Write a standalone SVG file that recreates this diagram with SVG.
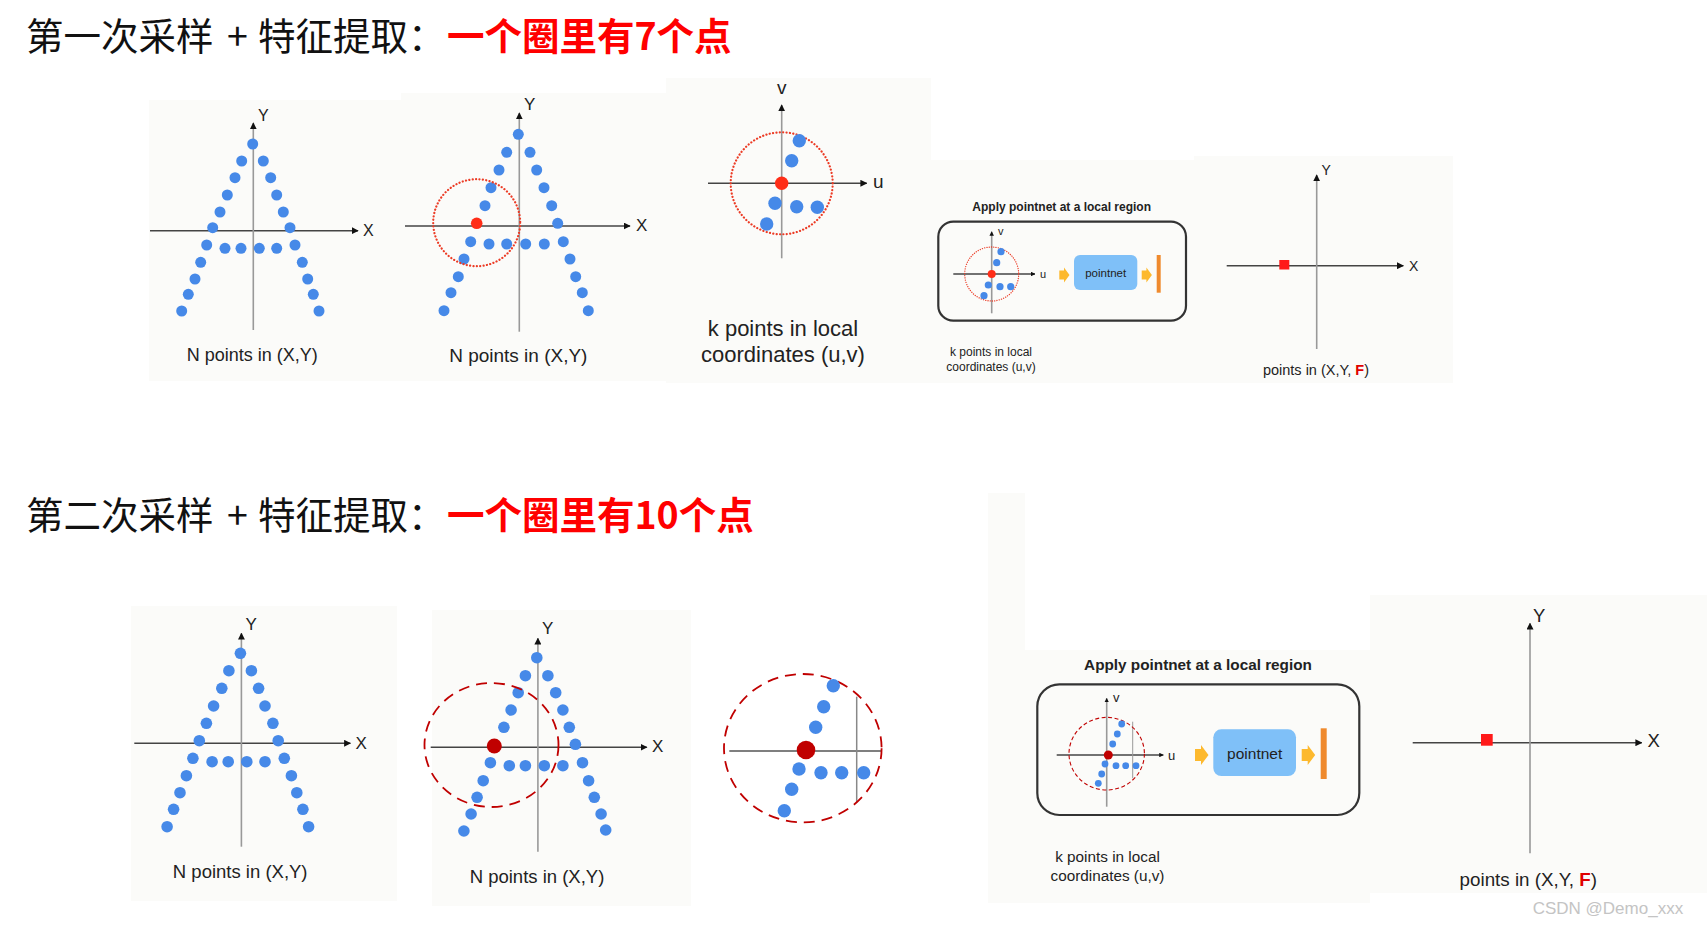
<svg xmlns="http://www.w3.org/2000/svg" width="1707" height="927" viewBox="0 0 1707 927">
<style>
.bg{fill:#fbfbf9}
.ttl{font-family:"Noto Sans CJK SC","Liberation Sans",sans-serif;font-size:37.5px;fill:#111}
.red{fill:#ff0000;font-weight:bold}
.lbl{font-family:"Liberation Sans",Arial,sans-serif;fill:#222}
.b{font-weight:bold}
.ax{stroke:#999;stroke-width:1.6;fill:none}
.axh{stroke:#444;stroke-width:1.4;fill:none}
.dot{fill:#4689e8}
.ctr{fill:#ff2d17}
.dctr{fill:#c00000}
.dotted{fill:none;stroke:#ec3b25;stroke-width:2.2;stroke-linecap:round;stroke-dasharray:0.1 3.3}
.dashed{fill:none;stroke:#c00000;stroke-width:1.8;stroke-dasharray:11 7}
.yl{fill:#fdb92e}
.bar{fill:#ef8a2e}
.pn{fill:#7fc0f8}
.box{fill:none;stroke:#333;stroke-width:2.2}
.wm{font-family:"Liberation Sans",Arial,sans-serif;fill:#c4c4c4;font-size:17px}
</style>
<defs>
<marker id="ah" viewBox="0 0 10 10" refX="9" refY="5" markerWidth="7" markerHeight="7" markerUnits="userSpaceOnUse" orient="auto"><path d="M0,0 L10,5 L0,10 z" fill="#111"/></marker>
<marker id="ahs" viewBox="0 0 10 10" refX="9" refY="5" markerWidth="4.5" markerHeight="4.5" markerUnits="userSpaceOnUse" orient="auto"><path d="M0,0 L10,5 L0,10 z" fill="#111"/></marker>
</defs>
<rect width="1707" height="927" fill="#ffffff"/>

<g id="backgrounds">
<rect class="bg" x="149" y="100" width="252" height="281"/>
<rect class="bg" x="401" y="93" width="265" height="288"/>
<rect class="bg" x="666" y="78" width="265" height="305"/>
<rect class="bg" x="931" y="160" width="263" height="223"/>
<rect class="bg" x="1194" y="156" width="259" height="227"/>
<rect class="bg" x="131" y="606" width="266" height="295"/>
<rect class="bg" x="432" y="610" width="259" height="296"/>
<rect class="bg" x="988" y="493" width="37" height="157"/>
<rect class="bg" x="988" y="650" width="382" height="253"/>
<rect class="bg" x="1370" y="595" width="337" height="298"/>
</g>

<g id="title1">
<text class="ttl" x="26" y="50">第一次采样<tspan x="227">+</tspan><tspan x="258">特征提取：</tspan></text>
<text class="ttl red" x="447" y="50">一个圈里有7个点</text>
</g>

<g id="r1p1">
<line class="axh" x1="150" y1="230.7" x2="358" y2="230.7" marker-end="url(#ah)"/>
<line class="ax" x1="253.3" y1="330" x2="253.3" y2="123" marker-end="url(#ah)"/>
<text class="lbl" x="258" y="121" font-size="16">Y</text>
<text class="lbl" x="363" y="236" font-size="16">X</text>
<g class="dot">
<circle cx="252.7" cy="144" r="5.5"/><circle cx="241.7" cy="161" r="5.5"/><circle cx="263.3" cy="161" r="5.5"/>
<circle cx="235" cy="177.7" r="5.5"/><circle cx="270.7" cy="177.7" r="5.5"/><circle cx="227.3" cy="195" r="5.5"/>
<circle cx="276.7" cy="195" r="5.5"/><circle cx="220" cy="212" r="5.5"/><circle cx="283.3" cy="212" r="5.5"/>
<circle cx="212.7" cy="227.7" r="5.5"/><circle cx="290" cy="227.7" r="5.5"/><circle cx="206.7" cy="245" r="5.5"/>
<circle cx="225" cy="248.3" r="5.5"/><circle cx="241" cy="248.3" r="5.5"/><circle cx="259.3" cy="248.3" r="5.5"/>
<circle cx="276.7" cy="248.3" r="5.5"/><circle cx="295" cy="245" r="5.5"/><circle cx="200.7" cy="262.3" r="5.5"/>
<circle cx="302.3" cy="262.3" r="5.5"/><circle cx="195" cy="279" r="5.5"/><circle cx="307.7" cy="279" r="5.5"/>
<circle cx="188.3" cy="294.3" r="5.5"/><circle cx="313.3" cy="294.3" r="5.5"/><circle cx="181.7" cy="311" r="5.5"/>
<circle cx="319" cy="311" r="5.5"/>
</g>
<text class="lbl" x="252.2" y="361" font-size="18" text-anchor="middle">N points in (X,Y)</text>
</g>

<g id="r1p2">
<line class="axh" x1="405" y1="226" x2="630" y2="226" marker-end="url(#ah)"/>
<line class="ax" x1="519.3" y1="331.7" x2="519.3" y2="113" marker-end="url(#ah)"/>
<text class="lbl" x="524" y="110" font-size="17">Y</text>
<text class="lbl" x="636" y="231" font-size="17">X</text>
<g class="dot">
<circle cx="518.3" cy="134.3" r="5.5"/><circle cx="506.7" cy="152.3" r="5.5"/><circle cx="530" cy="152.3" r="5.5"/>
<circle cx="499" cy="170" r="5.5"/><circle cx="536.7" cy="170" r="5.5"/><circle cx="491" cy="187.7" r="5.5"/>
<circle cx="544" cy="187.7" r="5.5"/><circle cx="485" cy="205.7" r="5.5"/><circle cx="551.7" cy="205.7" r="5.5"/>
<circle cx="557.7" cy="223.3" r="5.5"/>
<circle cx="470.7" cy="241.7" r="5.5"/><circle cx="489" cy="244" r="5.5"/><circle cx="506.7" cy="244" r="5.5"/>
<circle cx="525.7" cy="244" r="5.5"/><circle cx="544.3" cy="244" r="5.5"/><circle cx="563.3" cy="241.7" r="5.5"/>
<circle cx="464" cy="259" r="5.5"/><circle cx="570" cy="259" r="5.5"/><circle cx="458.3" cy="276.7" r="5.5"/>
<circle cx="575.7" cy="276.7" r="5.5"/><circle cx="451" cy="292.7" r="5.5"/><circle cx="582.3" cy="292.7" r="5.5"/>
<circle cx="444" cy="310.7" r="5.5"/><circle cx="588.3" cy="310.7" r="5.5"/>
</g>
<circle class="ctr" cx="476.7" cy="223.3" r="5.8"/>
<circle class="dotted" cx="476.7" cy="222.7" r="43.5"/>
<text class="lbl" x="518.3" y="361.7" font-size="19" text-anchor="middle">N points in (X,Y)</text>
</g>

<g id="r1p3">
<line class="axh" x1="708" y1="183.3" x2="866.7" y2="183.3" marker-end="url(#ah)"/>
<line class="ax" x1="781.7" y1="258.3" x2="781.7" y2="105" marker-end="url(#ah)"/>
<text class="lbl" x="781.7" y="94" font-size="19" text-anchor="middle">v</text>
<text class="lbl" x="873" y="188" font-size="19">u</text>
<circle class="dotted" cx="781.7" cy="183.3" r="51"/>
<g class="dot">
<circle cx="799.3" cy="140.7" r="6.7"/><circle cx="791.7" cy="160.7" r="6.7"/><circle cx="775" cy="203.3" r="6.7"/>
<circle cx="796.7" cy="206.7" r="6.7"/><circle cx="817.3" cy="207.3" r="6.7"/><circle cx="766.7" cy="224" r="6.7"/>
</g>
<circle class="ctr" cx="781.7" cy="183.3" r="6.7"/>
<text class="lbl" x="783" y="336" font-size="22" text-anchor="middle">k points in local</text>
<text class="lbl" x="783" y="361.5" font-size="22" text-anchor="middle">coordinates (u,v)</text>
</g>

<g id="r1p4">
<text class="lbl b" x="1061.7" y="211" font-size="12" text-anchor="middle">Apply pointnet at a local region</text>
<rect class="box" x="938.3" y="221.7" width="247.7" height="99" rx="15"/>
<line class="axh" x1="953.3" y1="274" x2="1035" y2="274" stroke-width="1" marker-end="url(#ahs)"/>
<line class="ax" x1="991.7" y1="313.3" x2="991.7" y2="231.7" stroke-width="1" marker-end="url(#ahs)"/>
<text class="lbl" x="998" y="235" font-size="11">v</text>
<text class="lbl" x="1040" y="278" font-size="11">u</text>
<circle cx="991.7" cy="274" r="27" fill="none" stroke="#ec3b25" stroke-width="1.3" stroke-linecap="round" stroke-dasharray="0.1 2.2"/>
<g class="dot">
<circle cx="1001" cy="251.7" r="3.6"/><circle cx="996.7" cy="262.7" r="3.6"/><circle cx="988.3" cy="285" r="3.6"/>
<circle cx="1000" cy="286.7" r="3.6"/><circle cx="1010.7" cy="286.7" r="3.6"/><circle cx="984" cy="295.7" r="3.6"/>
</g>
<circle class="ctr" cx="991.7" cy="274" r="4"/>
<polygon class="yl" points="1059.3,270.5 1064,270.5 1064,267.5 1069.5,275 1064,282.5 1064,279.5 1059.3,279.5"/>
<rect class="pn" x="1074" y="255" width="63.3" height="35" rx="6"/>
<text class="lbl" x="1105.7" y="277" font-size="11.5" text-anchor="middle" fill="#333">pointnet</text>
<polygon class="yl" points="1141.7,270.5 1146.4,270.5 1146.4,267.5 1151.9,275 1146.4,282.5 1146.4,279.5 1141.7,279.5"/>
<rect class="bar" x="1156.7" y="255" width="4" height="37.7"/>
<text class="lbl" x="991" y="356" font-size="12" text-anchor="middle" fill="#444">k points in local</text>
<text class="lbl" x="991" y="370.5" font-size="12" text-anchor="middle" fill="#444">coordinates (u,v)</text>
</g>

<g id="r1p5">
<line class="axh" x1="1226.7" y1="265.7" x2="1403.3" y2="265.7" marker-end="url(#ah)"/>
<line class="ax" x1="1316.7" y1="349" x2="1316.7" y2="175" marker-end="url(#ah)"/>
<text class="lbl" x="1321.5" y="175" font-size="14">Y</text>
<text class="lbl" x="1409" y="270.5" font-size="14">X</text>
<rect x="1279.3" y="260" width="10" height="9.5" fill="#ff1a1a"/>
<text class="lbl" x="1316" y="375" font-size="14.5" text-anchor="middle">points in (X,Y, <tspan class="b" fill="#e00000">F</tspan>)</text>
</g>

<g id="title2">
<text class="ttl" x="26" y="529">第二次采样<tspan x="227">+</tspan><tspan x="258">特征提取：</tspan></text>
<text class="ttl red" x="447" y="529">一个圈里有10个点</text>
</g>

<g id="r2p1">
<line class="axh" x1="134.3" y1="743.3" x2="350.4" y2="743.3" marker-end="url(#ah)"/>
<line class="ax" x1="241.4" y1="846.7" x2="241.4" y2="633.3" marker-end="url(#ah)"/>
<text class="lbl" x="245.5" y="630" font-size="17">Y</text>
<text class="lbl" x="355.5" y="748.5" font-size="17">X</text>
<g class="dot">
<circle cx="240.4" cy="653.3" r="5.8"/><circle cx="228.9" cy="670.7" r="5.8"/><circle cx="251.4" cy="670.7" r="5.8"/>
<circle cx="221.8" cy="688.3" r="5.8"/><circle cx="258.6" cy="688.3" r="5.8"/><circle cx="213.6" cy="706" r="5.8"/>
<circle cx="265" cy="706" r="5.8"/><circle cx="206.4" cy="723.3" r="5.8"/><circle cx="272.9" cy="723.3" r="5.8"/>
<circle cx="199.3" cy="740.7" r="5.8"/><circle cx="278.2" cy="740.7" r="5.8"/><circle cx="192.9" cy="758.3" r="5.8"/>
<circle cx="212.1" cy="761.7" r="5.8"/><circle cx="228.2" cy="761.7" r="5.8"/><circle cx="246.8" cy="761.7" r="5.8"/>
<circle cx="265" cy="761.7" r="5.8"/><circle cx="284.3" cy="758.3" r="5.8"/><circle cx="186.4" cy="775.7" r="5.8"/>
<circle cx="291.4" cy="775.7" r="5.8"/><circle cx="180" cy="792.7" r="5.8"/><circle cx="296.8" cy="792.7" r="5.8"/>
<circle cx="173.6" cy="809.3" r="5.8"/><circle cx="302.9" cy="809.3" r="5.8"/><circle cx="167.1" cy="826.7" r="5.8"/>
<circle cx="308.6" cy="826.7" r="5.8"/>
</g>
<text class="lbl" x="240.2" y="878" font-size="18.5" text-anchor="middle">N points in (X,Y)</text>
</g>

<g id="r2p2">
<line class="axh" x1="430.7" y1="747.3" x2="646.8" y2="747.3" marker-end="url(#ah)"/>
<line class="ax" x1="537.9" y1="851.7" x2="537.9" y2="638.3" marker-end="url(#ah)"/>
<text class="lbl" x="542" y="634" font-size="17">Y</text>
<text class="lbl" x="652" y="751.5" font-size="17">X</text>
<g class="dot">
<circle cx="536.8" cy="657.7" r="5.8"/><circle cx="525.4" cy="675.7" r="5.8"/><circle cx="547.9" cy="675.7" r="5.8"/>
<circle cx="518.2" cy="692.7" r="5.8"/><circle cx="555.7" cy="692.7" r="5.8"/><circle cx="511.1" cy="710" r="5.8"/>
<circle cx="562.9" cy="710" r="5.8"/><circle cx="503.9" cy="727.3" r="5.8"/><circle cx="569.3" cy="727.3" r="5.8"/>
<circle cx="575.4" cy="744.3" r="5.8"/>
<circle cx="490.4" cy="762.7" r="5.8"/><circle cx="509.3" cy="765.7" r="5.8"/><circle cx="525.4" cy="765.7" r="5.8"/>
<circle cx="544.3" cy="765.7" r="5.8"/><circle cx="562.9" cy="765.7" r="5.8"/><circle cx="582.5" cy="762.7" r="5.8"/>
<circle cx="483.2" cy="780.7" r="5.8"/><circle cx="588.6" cy="780.7" r="5.8"/><circle cx="477.1" cy="797.3" r="5.8"/>
<circle cx="594.3" cy="797.3" r="5.8"/><circle cx="471.1" cy="814" r="5.8"/><circle cx="601.1" cy="814" r="5.8"/>
<circle cx="463.9" cy="831" r="5.8"/><circle cx="605.7" cy="830" r="5.8"/>
</g>
<circle class="dctr" cx="494.3" cy="746" r="7.5"/>
<ellipse class="dashed" cx="491.5" cy="745" rx="67" ry="62"/>
<text class="lbl" x="537" y="883" font-size="18.5" text-anchor="middle">N points in (X,Y)</text>
</g>

<g id="r2p3">
<line x1="729.3" y1="751" x2="881.7" y2="751" stroke="#555" stroke-width="1.5"/>
<line x1="856.7" y1="696.7" x2="856.7" y2="802.3" stroke="#888" stroke-width="1.5"/>
<ellipse class="dashed" cx="802.8" cy="748.2" rx="78.8" ry="74.2" stroke-width="2" stroke-dasharray="13 8"/>
<g class="dot">
<circle cx="833.3" cy="685.7" r="6.7"/><circle cx="823.7" cy="706.7" r="6.7"/><circle cx="815.7" cy="727.3" r="6.7"/>
<circle cx="799" cy="769" r="6.7"/><circle cx="821" cy="772.7" r="6.7"/><circle cx="841.7" cy="772.7" r="6.7"/>
<circle cx="863.7" cy="772.7" r="6.7"/><circle cx="791.7" cy="789.3" r="6.7"/><circle cx="784.3" cy="810.7" r="6.7"/>
</g>
<circle class="dctr" cx="806" cy="750" r="9.3"/>
</g>

<g id="r2p4">
<text class="lbl b" x="1198" y="669.5" font-size="15.3" text-anchor="middle">Apply pointnet at a local region</text>
<rect class="box" x="1037.3" y="684.3" width="322" height="130.7" rx="22" stroke-width="2.5"/>
<line class="axh" x1="1056.7" y1="755" x2="1163.3" y2="755" stroke-width="1.2" marker-end="url(#ahs)"/>
<line class="ax" x1="1106.7" y1="806.7" x2="1106.7" y2="698.3" stroke-width="1.2" marker-end="url(#ahs)"/>
<line x1="1132.7" y1="721.7" x2="1132.7" y2="778.3" stroke="#999" stroke-width="1"/>
<text class="lbl" x="1113" y="702" font-size="13">v</text>
<text class="lbl" x="1168" y="759.5" font-size="13">u</text>
<ellipse cx="1106.7" cy="753.7" rx="37.7" ry="36.3" fill="none" stroke="#c00000" stroke-width="1.1" stroke-dasharray="4 2.5"/>
<g class="dot">
<circle cx="1121.7" cy="724" r="3.4"/><circle cx="1117.3" cy="734" r="3.4"/><circle cx="1112.7" cy="744" r="3.4"/>
<circle cx="1105" cy="764" r="3.4"/><circle cx="1116" cy="765.7" r="3.4"/><circle cx="1125.7" cy="765.7" r="3.4"/>
<circle cx="1136" cy="765.7" r="3.4"/><circle cx="1101.7" cy="774" r="3.4"/><circle cx="1098.3" cy="783.3" r="3.4"/>
</g>
<circle class="dctr" cx="1108.3" cy="755" r="4.5"/>
<polygon class="yl" points="1195,749 1201,749 1201,745 1208.5,755 1201,765 1201,761 1195,761"/>
<rect class="pn" x="1213.3" y="729.3" width="82.7" height="46.7" rx="8"/>
<text class="lbl" x="1254.7" y="758.5" font-size="15.5" text-anchor="middle" fill="#333">pointnet</text>
<polygon class="yl" points="1301.7,749 1307.7,749 1307.7,745 1315.2,755 1307.7,765 1307.7,761 1301.7,761"/>
<rect class="bar" x="1320.7" y="728.3" width="6" height="50.7"/>
<text class="lbl" x="1107.5" y="862" font-size="15.3" text-anchor="middle" fill="#444">k points in local</text>
<text class="lbl" x="1107.5" y="881" font-size="15.3" text-anchor="middle" fill="#444">coordinates (u,v)</text>
</g>

<g id="r2p5">
<line class="axh" x1="1412.7" y1="742.7" x2="1641.7" y2="742.7" marker-end="url(#ah)"/>
<line class="ax" x1="1530" y1="853.3" x2="1530" y2="623.3" marker-end="url(#ah)"/>
<text class="lbl" x="1533" y="621.7" font-size="18.5">Y</text>
<text class="lbl" x="1647.5" y="747" font-size="18.5">X</text>
<rect x="1481" y="734" width="11.7" height="11.7" fill="#ff1a1a"/>
<text class="lbl" x="1528.3" y="886" font-size="18.8" text-anchor="middle">points in (X,Y, <tspan class="b" fill="#e00000">F</tspan>)</text>
<text class="wm" x="1532.7" y="914">CSDN @Demo_xxx</text>
</g>
</svg>
